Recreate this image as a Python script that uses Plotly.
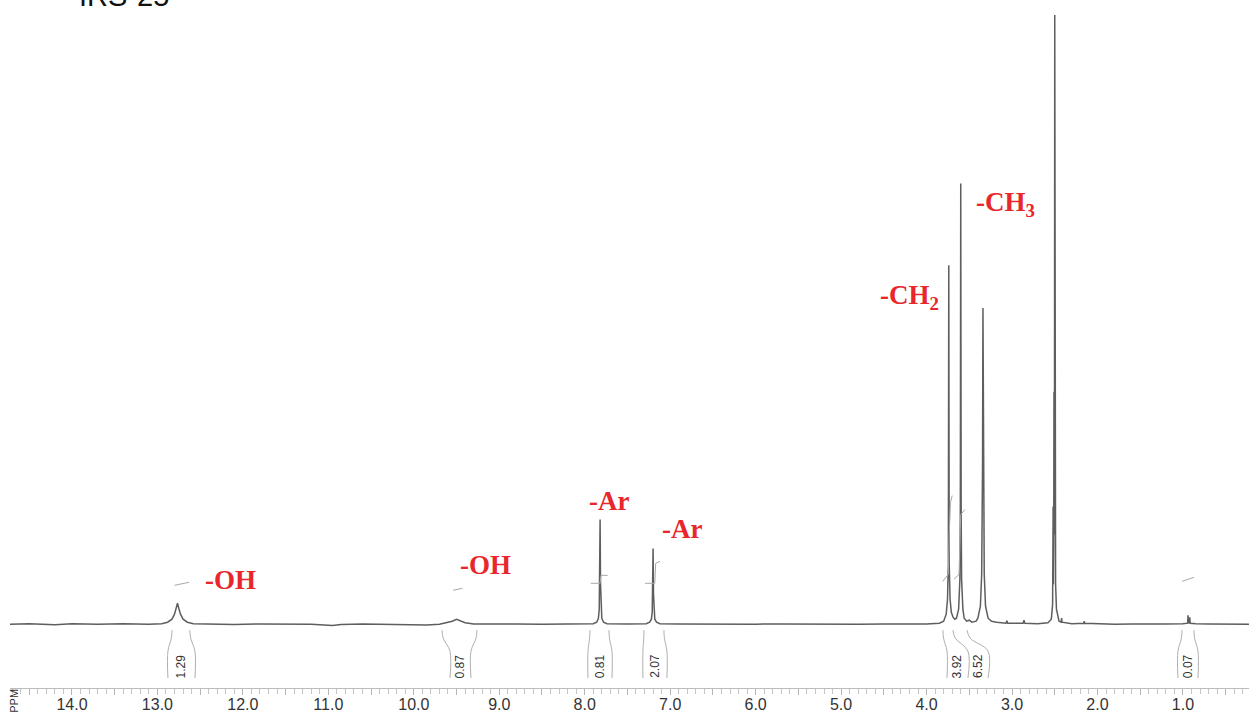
import plotly.graph_objects as go

# ---------------- data ----------------
sample_name = "IRS-25"
axis_unit = "PPM"

# 1H NMR spectrum: chemical shift (ppm) and relative intensity (baseline = 0)
shift_ppm = [14.725, 14.5, 14.2, 14.0, 13.7, 13.4, 13.1,
             12.95, 12.88, 12.83, 12.80, 12.78, 12.765, 12.75, 12.73, 12.70, 12.65, 12.58,
             12.4, 12.1, 11.8, 11.5, 11.2, 10.95, 10.85, 10.6, 10.3, 10.0, 9.85,
             9.70, 9.60, 9.55, 9.50, 9.45, 9.40, 9.30,
             9.1, 8.8, 8.5, 8.2, 7.95,
             7.90, 7.86, 7.84, 7.83, 7.825, 7.82, 7.815, 7.81, 7.80, 7.78, 7.74,
             7.5, 7.28, 7.24, 7.22, 7.21, 7.205, 7.20, 7.195, 7.19, 7.18, 7.16, 7.12,
             6.9, 6.6, 6.3, 6.0, 5.7, 5.4, 5.1, 4.8, 4.5, 4.2, 4.0,
             3.85, 3.80, 3.77, 3.755, 3.745, 3.74, 3.735, 3.725, 3.71, 3.69, 3.67,
             3.65, 3.625, 3.61, 3.605, 3.60, 3.595, 3.59, 3.575, 3.56, 3.53, 3.50, 3.47, 3.42,
             3.40, 3.37, 3.355, 3.345, 3.34, 3.335, 3.325, 3.31, 3.28, 3.24, 3.18,
             3.07, 3.06, 3.05, 2.87, 2.86, 2.85, 2.70,
             2.58, 2.54, 2.525, 2.519, 2.516, 2.512, 2.509, 2.506, 2.503, 2.50, 2.497,
             2.49, 2.48, 2.465, 2.45, 2.425, 2.42, 2.415, 2.3,
             2.16, 2.155, 2.15, 2.0, 1.8, 1.6, 1.4, 1.2, 1.0,
             0.945, 0.94, 0.935, 0.925, 0.92, 0.915, 0.85, 0.7, 0.5, 0.227]
intensity = [0, 0.5, -0.5, 0.5, 0, 0.5, 0,
             0.5, 2, 5, 10, 16, 21, 16, 10, 5, 2, 0.5,
             0.3, -0.3, 0.2, 0, 0, -1.2, -0.3, 0.3, 0, -0.5, -0.8,
             0, 1.5, 3, 5, 3.5, 1.5, 0.3,
             0, 0.3, 0, 0.3, 0,
             0.5, 2, 6, 15, 40, 105, 40, 15, 6, 2, 0.5,
             0.3, 0.5, 2, 5, 12, 30, 76, 30, 12, 5, 2, 0.5,
             0.3, 0, 0.3, 0, 0.3, 0, 0.2, 0, 0.3, 0, 0.3,
             1, 3, 10, 25, 60, 360, 60, 25, 12, 7, 5,
             6, 15, 45, 110, 442, 110, 45, 15, 6, 3, 4, 2, 3,
             6, 18, 50, 160, 317, 160, 50, 18, 6, 3, 2,
             1, 3.5, 1, 1, 4, 1, 0.5,
             1.5, 5, 20, 118, 40, 80, 233, 90, 200, 611, 150,
             40, 15, 7, 3, 2, 6, 2, 0.5,
             1, 3, 1, 0.3, 0, 0.3, 0, 0.3, 0.5,
             1, 9, 2, 1, 7, 1, 0.5, 0.3, 0, 0]

# integral curves (ppm, relative height)
integral_ppm = [[12.80, 12.70, 12.63],
                [9.54, 9.49, 9.43],
                [7.93, 7.82, 7.81, 7.73],
                [7.295, 7.18, 7.17, 7.12],
                [3.81, 3.745, 3.735, 3.72, 3.70],
                [3.68, 3.62, 3.605, 3.60, 3.55],
                [1.01, 0.93, 0.87]]
integral_val = [[39, 40.5, 42],
                [34, 35, 36],
                [41, 41, 49, 49],
                [41, 41, 61, 63],
                [43, 50, 90, 122, 129],
                [45, 50, 95, 110, 115],
                [43, 45, 47]]

# integration regions: bracket line top / bottom positions (ppm) and values
bracket_top_ppm = [12.83, 12.62, 9.670, 9.261, 7.939, 7.716, 7.307, 7.073,
                   3.808, 3.691, 3.527, 1.011, 0.871]
bracket_bot_ppm = [12.877, 12.561, 9.577, 9.331, 7.962, 7.681, 7.319, 7.038,
                   3.761, 3.516, 3.281, 1.058, 0.824]
integral_labels = ["1.29", "0.87", "0.81", "2.07", "3.92", "6.52", "0.07"]
integral_label_ppm = [12.72, 9.455, 7.82, 7.18, 3.64, 3.40, 0.94]

# peak assignments
assign_text = ["-OH", "-OH", "-Ar", "-Ar", "-CH<sub>2</sub>", "-CH<sub>3</sub>"]
assign_ppm = [12.467, 9.483, 7.974, 7.12, 4.569, 3.445]
assign_y = [44, 59, 124, 95, 328, 421]

tick_major = [14.5, 14.0, 13.5, 13.0, 12.5, 12.0, 11.5, 11.0, 10.5, 10.0, 9.5, 9.0,
              8.5, 8.0, 7.5, 7.0, 6.5, 6.0, 5.5, 5.0, 4.5, 4.0, 3.5, 3.0, 2.5,
              2.0, 1.5, 1.0, 0.5]

x_range = [14.725, 0.227]
y_range = [-64, 626]

# ---------------- figure ----------------
fig = go.Figure()

fig.add_trace(go.Scatter(x=shift_ppm, y=intensity, mode="lines",
                         line=dict(color="#5e5e5e", width=1.5),
                         hoverinfo="skip", showlegend=False))

for px, pv in zip(integral_ppm, integral_val):
    fig.add_trace(go.Scatter(x=px, y=pv, mode="lines",
                             line=dict(color="#a8a8a8", width=1),
                             hoverinfo="skip", showlegend=False))

for t, b in zip(bracket_top_ppm, bracket_bot_ppm):
    fig.add_trace(go.Scatter(x=[t, t + (b - t) * 0.15, b, b], y=[-6, -14, -27, -54],
                             mode="lines", line=dict(color="#b0b0b0", width=1, shape="spline"),
                             hoverinfo="skip", showlegend=False))

for lab, lp in zip(integral_labels, integral_label_ppm):
    fig.add_annotation(x=lp, y=-42, text=lab, showarrow=False, textangle=-90,
                       font=dict(family="Liberation Sans, Arial", size=12, color="#333333"))

for txt, ap, ay in zip(assign_text, assign_ppm, assign_y):
    fig.add_annotation(x=ap, y=ay, text="<b>" + txt + "</b>", showarrow=False,
                       xanchor="left", yanchor="middle",
                       font=dict(family="Liberation Serif, Times New Roman", size=27,
                                 color="#e8262c"))

fig.add_annotation(xref="paper", yref="paper", x=0.054, y=1.006, text=sample_name,
                   showarrow=False, xanchor="left", yanchor="middle",
                   font=dict(family="Liberation Sans, Arial", size=29, color="#111111"))
fig.add_annotation(xref="paper", yref="paper", x=0.0035, y=-0.018, text=axis_unit,
                   showarrow=False, textangle=-90, xanchor="center", yanchor="middle",
                   font=dict(family="Liberation Sans, Arial", size=11, color="#333333"))

fig.update_layout(
    width=1249, height=713,
    margin=dict(l=10, r=0, t=0, b=22),
    paper_bgcolor="white", plot_bgcolor="white",
    xaxis=dict(range=x_range, showgrid=False, zeroline=False,
               showline=True, linecolor="#bdbdbd", linewidth=1,
               tickmode="array", tickvals=tick_major,
               ticktext=[("%.1f" % v) if abs(v - round(v)) < 1e-9 else "" for v in tick_major],
               ticks="outside", ticklen=6, tickcolor="#b5b5b5", tickwidth=1,
               ticklabelstandoff=-4,
               minor=dict(dtick=0.1, ticks="outside", ticklen=5, tickcolor="#c5c5c5"),
               tickfont=dict(family="Liberation Sans, Arial", size=16, color="#333333")),
    yaxis=dict(range=y_range, visible=False, fixedrange=True),
)

fig.write_html("out.html", config={"displayModeBar": False},
               post_script="document.body.style.margin='0px';document.body.style.overflow='hidden';")
